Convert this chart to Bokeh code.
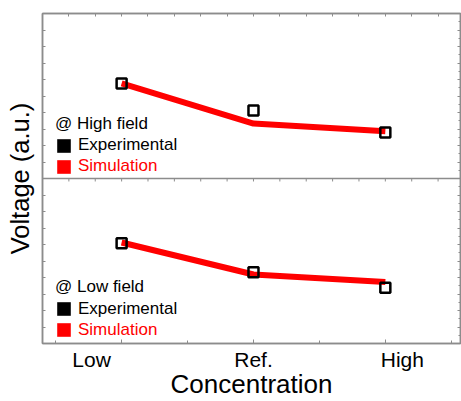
import numpy as np
from bokeh.plotting import figure
from bokeh.models import (Range1d, LinearAxis, SingleIntervalTicker, FixedTicker,
                          Span, Legend, LegendItem, CustomJSTickFormatter)
from bokeh.embed import file_html
from bokeh.resources import INLINE

# ---- data ----
categories = ["Low", "Ref.", "High"]
high_field_exp = [5.76, 4.12, 2.79]
high_field_sim = [5.76, 3.33, 2.87]
low_field_exp = [6.08, 4.32, 3.38]
low_field_sim = [6.12, 4.18, 3.72]
panel_titles = ["@ High field", "@ Low field"]
series_names = ["Experimental", "Simulation"]

# ---- style ----
FONT = "Liberation Sans"
GRAY = "#8c8c8c"
RED = "#ff0000"
PANEL_SPAN = 10.0
X0, X1 = -0.6, 2.57
W, H = 461, 401
BL, BR = 42, 1
label_px_offsets = [-30, 0, 17]

x_idx = list(range(len(categories)))

p = figure(width=W, height=H,
           x_range=Range1d(X0, X1), y_range=Range1d(0, 2 * PANEL_SPAN),
           output_backend="svg", toolbar_location=None,
           min_border_left=BL, min_border_right=BR, min_border_top=13, min_border_bottom=10,
           outline_line_color=GRAY, outline_line_width=1.5)
p.xgrid.visible = False
p.ygrid.visible = False

blank = CustomJSTickFormatter(code="return ''")

def style_tick_axis(ax, tick_in=3, minor_in=0):
    ax.axis_line_color = GRAY
    ax.axis_line_width = 1.5
    ax.major_tick_line_color = GRAY
    ax.minor_tick_line_color = GRAY
    ax.major_tick_in = tick_in
    ax.major_tick_out = 0
    ax.minor_tick_in = minor_in
    ax.minor_tick_out = 0
    ax.formatter = blank
    ax.major_label_text_font_size = "1px"
    ax.major_label_standoff = 0

# bottom x axis: tick marks only
xa = p.xaxis[0]
xa.ticker = FixedTicker(ticks=x_idx, minor_ticks=[-0.5, 0.5, 1.5, 2.5])
style_tick_axis(xa, tick_in=4, minor_in=3)

# second bottom axis: category names and title
px_per_unit = (W - BL - BR) / (X1 - X0)
label_ticks = [i + dx / px_per_unit for i, dx in zip(x_idx, label_px_offsets)]
cat_ax = LinearAxis(ticker=FixedTicker(ticks=label_ticks, minor_ticks=[]),
                    formatter=CustomJSTickFormatter(args=dict(names=categories),
                                                    code="return names[index]"))
cat_ax.axis_line_color = None
cat_ax.major_tick_line_color = None
cat_ax.major_tick_in = 0
cat_ax.major_tick_out = 0
cat_ax.major_label_standoff = 4
cat_ax.major_label_text_font = FONT
cat_ax.major_label_text_font_size = "21px"
cat_ax.major_label_text_color = "black"
cat_ax.axis_label = "Concentration"
cat_ax.axis_label_text_font = FONT
cat_ax.axis_label_text_font_size = "26px"
cat_ax.axis_label_text_font_style = "normal"
cat_ax.axis_label_text_color = "black"
cat_ax.axis_label_standoff = -5
p.add_layout(cat_ax, "below")

# left y axis
ya = p.yaxis[0]
ya.ticker = SingleIntervalTicker(interval=1, num_minor_ticks=0)
style_tick_axis(ya, tick_in=3)
ya.axis_label = "Voltage (a.u.)"
ya.axis_label_text_font = FONT
ya.axis_label_text_font_size = "25.5px"
ya.axis_label_text_font_style = "normal"
ya.axis_label_text_color = "black"
ya.axis_label_standoff = 9

# top and right axes (ticks only)
top_ax = LinearAxis(ticker=SingleIntervalTicker(interval=0.2, num_minor_ticks=0))
style_tick_axis(top_ax, tick_in=3)
p.add_layout(top_ax, "above")
right_ax = LinearAxis(ticker=SingleIntervalTicker(interval=1, num_minor_ticks=2))
style_tick_axis(right_ax, tick_in=3, minor_in=2)
p.add_layout(right_ax, "right")

# divider between panels
p.add_layout(Span(location=PANEL_SPAN, dimension="width", line_color=GRAY, line_width=1.5))
div_ticks = np.arange(X0, 2.6, 0.2)
p.segment(x0=div_ticks, y0=PANEL_SPAN, x1=div_ticks, y1=PANEL_SPAN - 0.18,
          line_color=GRAY, line_width=1)

# data
panels = [(high_field_exp, high_field_sim, PANEL_SPAN), (low_field_exp, low_field_sim, 0.0)]
for exp, sim, off in panels:
    p.line(x_idx, [v + off for v in sim], line_color=RED, line_width=6)
    p.scatter(x_idx, [v + off for v in exp], marker="square", size=10,
              fill_alpha=0, line_color="black", line_width=2.5)

# legend swatches (no data drawn, only used by legends)
nan = [np.nan]
exp_sw = p.quad(left=nan, right=nan, top=nan, bottom=nan, fill_color="black", line_color=None)
sim_sw = p.quad(left=nan, right=nan, top=nan, bottom=nan, fill_color=RED, line_color=None)

legend_y = [(187.5, 166.5), (24.0, 3.0)]
for title, (ye, ys) in zip(panel_titles, legend_y):
    for name, rend, color, yy, ttl in [(series_names[0], exp_sw, "black", ye, title),
                                        (series_names[1], sim_sw, RED, ys, None)]:
        kw = {}
        if ttl:
            kw = dict(title=ttl, title_text_font=FONT, title_text_font_size="17px",
                      title_text_font_style="normal", title_text_color="black",
                      title_standoff=1)
        lg = Legend(items=[LegendItem(label=name, renderers=[rend])],
                    location=(13, yy), padding=0, margin=0, spacing=0,
                    border_line_color=None, background_fill_alpha=0,
                    glyph_width=17, glyph_height=17, label_height=21,
                    label_standoff=6, label_text_font=FONT,
                    label_text_font_size="17px", label_text_color=color, **kw)
        p.add_layout(lg)

open("out.html", "w").write(file_html(p, INLINE))
